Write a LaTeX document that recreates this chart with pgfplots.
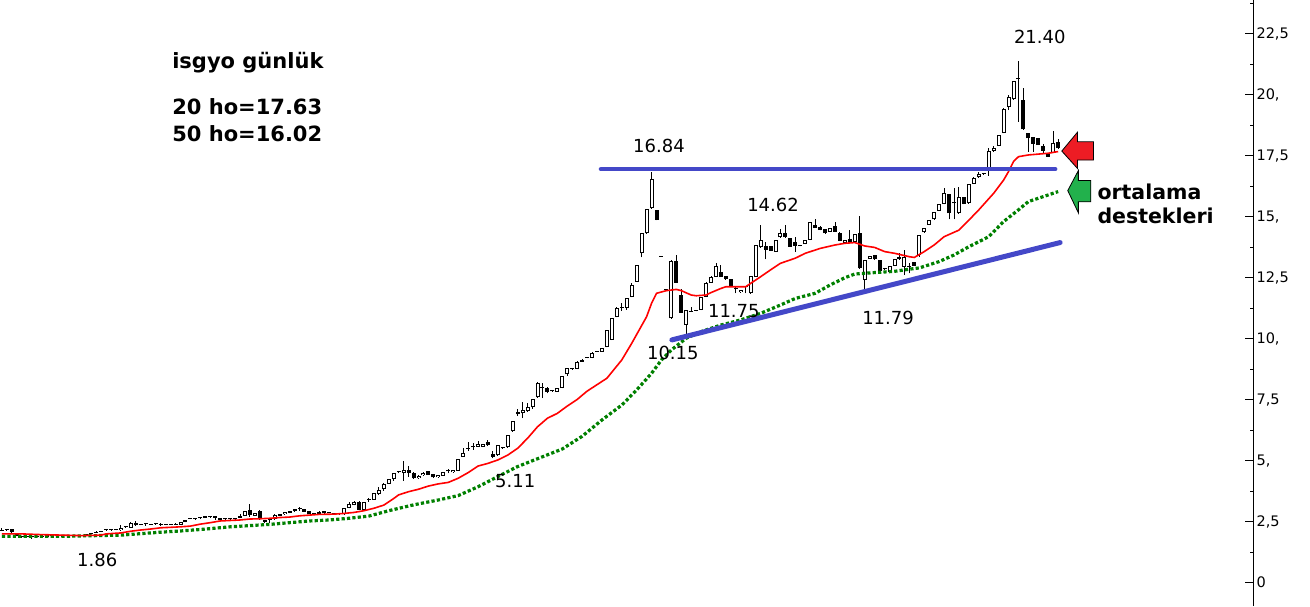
\documentclass[border=0pt]{standalone}
\usepackage{pgfplots}
\pgfplotsset{compat=1.18}
\usepackage{pgfplotstable}
\usepackage{fontspec}
\setmainfont{DejaVu Sans}

\definecolor{maRed}{RGB}{255,0,0}
\definecolor{maGreen}{RGB}{0,128,0}
\definecolor{lineBlue}{RGB}{68,72,200}
\definecolor{arrRed}{RGB}{237,28,36}
\definecolor{arrGreen}{RGB}{34,177,76}

% daily candles: day, open, high, low, close
\pgfplotstableread{
i o h l c
0 2.13 2.23 2.11 2.12
1 2.17 2.18 2.15 2.16
2 2.20 2.21 2.05 2.06
3 1.99 2.00 1.90 1.93
4 1.87 1.88 1.85 1.86
5 1.86 1.88 1.85 1.87
6 1.87 1.88 1.80 1.86
7 1.86 1.88 1.85 1.87
8 1.88 1.90 1.87 1.89
9 1.89 1.91 1.88 1.90
10 1.90 1.92 1.89 1.91
11 1.91 1.93 1.90 1.91
12 1.91 1.93 1.90 1.92
13 1.92 1.94 1.91 1.92
14 1.92 1.94 1.91 1.93
15 1.93 1.95 1.92 1.93
16 1.93 1.95 1.92 1.94
17 1.95 1.99 1.93 1.96
18 2.03 2.04 1.99 2.00
19 2.05 2.10 2.04 2.06
20 2.09 2.10 2.07 2.08
21 2.15 2.17 2.14 2.16
22 2.16 2.17 2.15 2.16
23 2.16 2.19 2.14 2.15
24 2.14 2.35 2.13 2.24
25 2.27 2.29 2.26 2.28
26 2.26 2.48 2.25 2.43
27 2.43 2.51 2.34 2.35
28 2.37 2.39 2.36 2.38
29 2.39 2.44 2.33 2.39
30 2.38 2.39 2.37 2.38
31 2.40 2.41 2.39 2.40
32 2.38 2.44 2.32 2.38
33 2.37 2.40 2.36 2.37
34 2.38 2.39 2.37 2.38
35 2.38 2.43 2.37 2.38
36 2.38 2.49 2.37 2.48
37 2.48 2.57 2.47 2.56
38 2.63 2.64 2.61 2.62
39 2.62 2.63 2.61 2.62
40 2.64 2.65 2.63 2.64
41 2.67 2.68 2.66 2.67
42 2.69 2.70 2.68 2.69
43 2.67 2.73 2.58 2.67
44 2.65 2.66 2.56 2.57
45 2.60 2.61 2.59 2.60
46 2.60 2.67 2.53 2.60
47 2.62 2.63 2.61 2.62
48 2.67 2.80 2.66 2.68
49 2.74 2.95 2.73 2.94
50 2.98 3.23 2.70 2.79
51 2.74 2.86 2.73 2.85
52 2.92 2.98 2.57 2.64
53 2.58 2.59 2.43 2.50
54 2.57 2.62 2.44 2.57
55 2.60 2.80 2.59 2.77
56 2.74 2.82 2.73 2.81
57 2.80 2.91 2.79 2.90
58 2.94 2.95 2.84 2.85
59 3.01 3.02 2.91 2.92
60 3.02 3.09 2.95 3.02
61 3.03 3.04 2.90 2.91
62 2.94 2.95 2.82 2.83
63 2.83 2.84 2.82 2.83
64 2.83 2.92 2.82 2.91
65 2.94 2.95 2.83 2.84
66 2.87 2.88 2.86 2.87
67 2.80 2.81 2.79 2.80
68 2.80 2.81 2.79 2.80
69 2.80 3.06 2.79 3.05
70 3.06 3.31 3.05 3.23
71 3.18 3.33 3.17 3.32
72 3.30 3.35 2.97 2.98
73 2.98 3.32 2.97 3.31
74 3.39 3.47 3.31 3.39
75 3.40 3.67 3.39 3.66
76 3.63 3.94 3.59 3.80
77 3.85 4.10 3.76 4.03
78 4.06 4.26 4.05 4.25
79 4.24 4.49 4.18 4.48
80 4.52 4.59 4.48 4.52
81 4.51 4.99 4.18 4.61
82 4.62 4.80 4.35 4.51
83 4.51 4.52 4.27 4.28
84 4.28 4.40 4.27 4.39
85 4.40 4.52 4.39 4.51
86 4.56 4.57 4.42 4.43
87 4.45 4.46 4.31 4.32
88 4.32 4.42 4.31 4.41
89 4.39 4.53 4.38 4.52
90 4.56 4.65 4.48 4.56
91 4.52 4.63 4.51 4.62
92 4.59 5.07 4.58 5.06
93 5.17 5.51 5.16 5.33
94 5.47 5.76 5.41 5.47
95 5.60 5.71 5.44 5.55
96 5.57 5.79 5.56 5.70
97 5.57 5.69 5.56 5.68
98 5.77 5.85 5.62 5.63
99 5.27 5.38 5.10 5.17
100 5.22 5.64 5.21 5.63
101 5.51 5.53 5.49 5.51
102 5.55 6.05 5.54 6.04
103 6.20 6.62 6.19 6.61
104 6.99 7.12 6.83 6.90
105 6.94 7.42 6.74 7.08
106 7.02 7.35 7.01 7.19
107 7.19 7.52 7.13 7.51
108 7.60 8.24 7.59 8.20
109 7.97 8.20 7.56 7.97
110 7.98 8.01 7.76 7.83
111 7.84 7.86 7.82 7.84
112 7.83 7.98 7.82 7.97
113 7.97 8.48 7.96 8.47
114 8.54 8.80 8.49 8.79
115 8.76 8.81 8.72 8.76
116 8.76 9.10 8.75 9.03
117 9.06 9.16 9.05 9.14
118 9.20 9.26 9.19 9.20
119 9.20 9.44 9.19 9.43
120 9.47 9.49 9.46 9.47
121 9.47 9.61 9.46 9.60
122 9.65 10.37 9.64 10.36
123 9.95 10.84 9.94 10.83
124 10.88 11.31 10.87 11.24
125 11.27 11.45 11.15 11.27
126 11.27 11.66 11.18 11.65
127 11.70 12.27 11.69 12.20
128 12.34 13.03 12.33 13.02
129 13.50 14.33 13.33 14.32
130 14.32 15.33 14.31 15.32
131 15.34 16.84 15.33 16.53
132 15.27 15.28 14.85 14.86
133 13.37 13.38 13.35 13.36
134 12.01 12.02 11.99 12.00
135 10.83 13.21 10.82 13.20
136 13.20 13.43 12.29 12.30
137 11.79 12.02 11.06 11.07
138 10.56 11.19 10.15 11.18
139 11.11 11.31 11.10 11.11
140 11.14 11.16 11.12 11.14
141 11.18 11.71 11.17 11.70
142 11.72 12.31 11.71 12.30
143 12.30 12.55 12.29 12.54
144 12.54 13.09 12.53 12.98
145 12.75 13.02 12.53 12.54
146 12.57 12.58 12.42 12.43
147 12.43 12.44 12.15 12.16
148 12.02 12.13 11.86 12.02
149 11.90 12.01 11.89 12.00
150 12.13 12.14 11.86 12.13
151 11.86 12.58 11.85 12.57
152 12.54 13.85 12.53 13.84
153 13.74 14.66 13.73 14.05
154 13.80 13.98 13.25 13.64
155 13.80 13.81 13.60 13.61
156 13.57 14.06 13.56 14.05
157 14.15 14.48 14.14 14.32
158 14.32 14.66 14.14 14.15
159 14.11 14.12 13.76 13.77
160 13.96 14.15 13.57 13.80
161 13.80 13.82 13.78 13.80
162 13.88 14.06 13.87 14.05
163 14.05 14.78 14.04 14.77
164 14.66 14.89 14.54 14.55
165 14.59 14.60 14.44 14.45
166 14.48 14.49 14.31 14.32
167 14.39 14.53 14.38 14.52
168 14.62 14.80 14.38 14.39
169 14.35 14.36 13.99 14.00
170 13.94 14.06 13.93 14.05
171 14.07 14.45 13.93 13.94
172 13.98 14.29 13.97 14.28
173 14.32 15.03 12.87 12.88
174 12.40 13.23 12.02 13.22
175 13.28 13.40 13.27 13.39
176 13.43 13.44 13.24 13.25
177 13.22 13.23 12.78 12.79
178 12.88 12.90 12.80 12.87
179 12.75 12.99 12.74 12.98
180 12.98 13.26 12.97 13.25
181 13.36 13.50 13.24 13.25
182 12.95 13.64 12.61 13.33
183 12.95 13.09 12.68 12.95
184 13.13 13.14 12.98 12.99
185 13.43 14.26 13.36 14.25
186 14.36 14.53 14.35 14.52
187 14.66 14.87 14.65 14.86
188 14.89 15.19 14.88 15.18
189 15.25 15.52 15.24 15.51
190 15.52 16.16 15.51 15.96
191 15.93 15.94 14.89 15.14
192 15.55 16.16 14.89 15.55
193 15.14 16.23 15.13 15.79
194 15.79 15.80 15.51 15.52
195 15.55 16.35 15.54 16.34
196 16.34 16.64 16.33 16.59
197 16.61 16.82 16.60 16.75
198 16.75 16.77 16.73 16.75
199 16.98 17.80 16.67 17.69
200 17.71 17.90 17.67 17.83
201 17.90 18.36 17.89 18.35
202 18.42 19.44 18.41 19.43
203 19.51 19.99 19.37 19.92
204 19.81 20.57 19.80 20.56
205 20.63 21.40 18.90 20.63
206 19.78 20.26 18.57 18.58
207 18.42 18.43 17.67 18.21
208 18.25 18.26 17.67 17.98
209 18.21 18.22 17.93 17.94
210 17.90 17.98 17.57 17.71
211 17.60 17.61 17.45 17.46
212 17.60 18.51 17.59 18.01
213 18.08 18.17 17.79 17.80
}\candles

% 20-day average
\pgfplotstableread{
i v
0 2.00
4 2.00
8 1.97
12 1.95
16 1.93
20 1.95
21 2.00
24 2.04
26 2.11
28 2.16
30 2.20
32 2.25
36 2.29
38 2.32
40 2.40
42 2.46
44 2.53
48 2.57
50 2.61
52 2.62
54 2.64
56 2.67
58 2.69
60 2.74
62 2.77
64 2.80
67 2.81
69 2.84
71 2.88
73 2.95
75 3.05
77 3.18
79 3.45
80 3.60
82 3.73
84 3.83
86 3.96
88 4.05
90 4.11
92 4.28
94 4.51
96 4.78
98 4.89
100 5.03
102 5.23
104 5.51
106 5.92
108 6.39
110 6.74
112 6.94
114 7.24
116 7.51
118 7.85
122 8.38
125 9.13
127 9.81
130 10.90
131 11.45
132 11.86
134 11.97
136 12.02
137 11.97
139 11.79
140 11.76
142 11.79
143 11.89
145 12.06
146 12.13
150 12.13
151 12.27
153 12.54
155 12.82
157 13.09
160 13.30
162 13.50
165 13.70
168 13.84
170 13.91
172 13.94
174 13.80
176 13.74
178 13.57
180 13.50
183 13.36
184 13.33
186 13.57
188 13.84
190 14.18
193 14.45
195 14.86
197 15.28
200 15.96
202 16.50
203 16.85
204 17.26
205 17.46
207 17.53
211 17.60
213 17.67
}\maTwenty

% 50-day average
\pgfplotstableread{
i v
0 1.90
12 1.90
24 1.95
28 2.01
32 2.07
36 2.12
40 2.18
46 2.29
50 2.34
54 2.39
58 2.46
62 2.53
66 2.57
70 2.64
74 2.73
78 2.95
83 3.19
88 3.39
92 3.57
96 3.93
100 4.35
104 4.76
109 5.16
113 5.48
117 6.00
121 6.67
125 7.28
128 7.90
131 8.58
133 9.13
135 9.54
138 10.02
141 10.29
145 10.56
149 10.77
153 11.04
157 11.38
160 11.65
164 11.86
167 12.20
170 12.50
172 12.65
176 12.71
180 12.76
183 12.85
185 12.90
189 13.16
192 13.43
195 13.77
199 14.18
202 14.80
205 15.28
207 15.62
211 15.89
213 16.03
}\maFifty

\begin{document}
\begin{tikzpicture}
\useasboundingbox (0,0) rectangle (1310pt,606pt);
\begin{axis}[
  at={(0,0)}, anchor=south west,
  scale only axis, width=1253pt, height=606pt,
  xmin=-0.403, xmax=252.3, ymin=-0.955, ymax=23.881,
  axis x line=none, axis y line*=right,
  axis line style={black, line width=1pt},
  ytick={0,2.5,5,7.5,10,12.5,15,17.5,20,22.5},
  yticklabels={{0},{2,5},{5,},{7,5},{10,},{12,5},{15,},{17,5},{20,},{22,5}},
  minor ytick={1.25,3.75,6.25,8.75,11.25,13.75,16.25,18.75,21.25,23.75},
  tick align=inside,
  major tick length=8pt, minor tick length=3.5pt,
  tick style={black, line width=1pt},
  yticklabel style={font=\fontsize{14.5}{16}\selectfont, black},
  candle/.style={forget plot, draw=none, no markers,
    error bars/.cd, y dir=plus, y explicit, error mark=none},
]

% wicks
\addplot[candle, error bar style={draw=black, line width=1pt}]
  table[x=i, y=l, y error plus expr={\thisrow{h}-\thisrow{l}}] {\candles};
% bodies
\addplot[candle, error bar style={draw=black, line width=4pt}]
  table[x=i, y expr={min(\thisrow{o},\thisrow{c})},
    y error plus expr={max(abs(\thisrow{c}-\thisrow{o}),0.045)}] {\candles};
% hollow inside of rising candles
\addplot[candle, error bar style={draw=white, line width=2pt}]
  table[x=i, y expr={\thisrow{o}+0.041},
    y error plus expr={max(\thisrow{c}-\thisrow{o}-0.082,0)}] {\candles};

% moving averages
\addplot[maGreen, line width=3.2pt, dash pattern=on 3.2pt off 2.2pt] table[x=i, y=v] {\maFifty};
\addplot[maRed, line width=1.6pt] table[x=i, y=v] {\maTwenty};

% resistance and support lines
\addplot[lineBlue, line width=4.5pt, line cap=round] coordinates {(120.8,16.95) (212.4,16.95)};
\addplot[lineBlue, line width=5pt, line cap=round] coordinates {(135.1,9.95) (213.4,13.94)};

% arrows
\draw[black, line width=0.8pt, fill=arrRed]
  (axis cs:213.74,17.69) -- (axis cs:216.89,18.46) -- (axis cs:216.89,18.07)
  -- (axis cs:220.12,18.07) -- (axis cs:220.12,17.32) -- (axis cs:216.89,17.32)
  -- (axis cs:216.89,16.98) -- cycle;
\draw[black, line width=0.8pt, fill=arrGreen]
  (axis cs:214.94,16.07) -- (axis cs:217.08,16.89) -- (axis cs:217.08,16.48)
  -- (axis cs:219.58,16.48) -- (axis cs:219.58,15.61) -- (axis cs:217.08,15.61)
  -- (axis cs:217.08,15.16) -- cycle;

% annotations
\tikzset{lbl/.style={font=\fontsize{18}{20}\selectfont, black, inner sep=0pt}}
\node[lbl] at (axis cs:209.3,22.35) {21.40};
\node[lbl] at (axis cs:132.5,17.90) {16.84};
\node[lbl] at (axis cs:155.5,15.48) {14.62};
\node[lbl] at (axis cs:147.6,11.14) {11.75};
\node[lbl] at (axis cs:135.3,9.43) {10.15};
\node[lbl] at (axis cs:178.7,10.85) {11.79};
\node[lbl] at (axis cs:103.5,4.17) {5.11};
\node[lbl] at (axis cs:19.2,0.92) {1.86};

\tikzset{bold/.style={font=\fontsize{21}{24}\bfseries\selectfont, black, inner sep=0pt, anchor=base west}}
\node[bold] at (axis cs:34.3,21.09) {isgyo günlük};
\node[bold] at (axis cs:34.3,19.17) {20 ho=17.63};
\node[bold] at (axis cs:34.3,18.10) {50 ho=16.02};
\node[bold, font=\fontsize{20.5}{24}\bfseries\selectfont] at (axis cs:220.9,15.70) {ortalama};
\node[bold, font=\fontsize{20.5}{24}\bfseries\selectfont] at (axis cs:220.9,14.72) {destekleri};
\end{axis}
\end{tikzpicture}
\end{document}
